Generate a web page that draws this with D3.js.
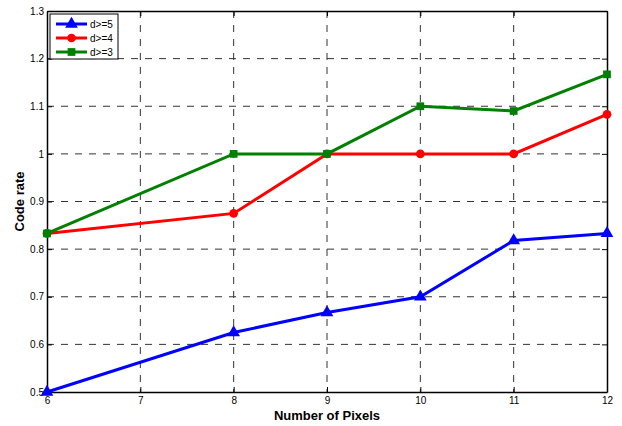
<!DOCTYPE html>
<html>
<head>
<meta charset="utf-8">
<script src="https://d3js.org/d3.v7.min.js"></script>
<style>
  body { margin: 0; background: #fff; }
  text { font-family: Arial, 'Liberation Sans', sans-serif; }
</style>
</head>
<body>
<div id="chart"></div>
<script>
// data
var pixels = [6, 8, 9, 10, 11, 12];
var rateD5 = [0.5, 0.625, 0.667, 0.7, 0.818, 0.833];
var rateD4 = [0.833, 0.875, 1.0, 1.0, 1.0, 1.083];
var rateD3 = [0.833, 1.0, 1.0, 1.1, 1.09, 1.167];
var xTicks = [6, 7, 8, 9, 10, 11, 12];
var yTicks = [0.5, 0.6, 0.7, 0.8, 0.9, 1, 1.1, 1.2, 1.3];

var series = [
  { name: "d>=5", values: rateD5, color: "#0000ff", marker: "triangle" },
  { name: "d>=4", values: rateD4, color: "#ff0000", marker: "circle" },
  { name: "d>=3", values: rateD3, color: "#008000", marker: "square" }
];

var width = 622, height = 426;
var margin = { top: 11, right: 15, bottom: 34, left: 47 };
var w = width - margin.left - margin.right,
    h = height - margin.top - margin.bottom;

var svg = d3.select("#chart").append("svg")
    .attr("width", width)
    .attr("height", height);

var g = svg.append("g")
    .attr("transform", "translate(" + margin.left + "," + margin.top + ")");

var x = d3.scaleLinear().domain([6, 12]).range([0, w]);
var y = d3.scaleLinear().domain([0.5, 1.3]).range([h, 0]);

// grid
g.append("g").selectAll("line")
    .data(xTicks.slice(1, -1))
    .enter().append("line")
    .attr("x1", d => x(d)).attr("x2", d => x(d))
    .attr("y1", 0).attr("y2", h)
    .attr("stroke", "#333").attr("stroke-width", 1)
    .attr("stroke-dasharray", "7,7");
g.append("g").selectAll("line")
    .data(yTicks.slice(1, -1))
    .enter().append("line")
    .attr("y1", d => y(d)).attr("y2", d => y(d))
    .attr("x1", 0).attr("x2", w)
    .attr("stroke", "#333").attr("stroke-width", 1)
    .attr("stroke-dasharray", "7,7");

// axes, ticks inside
var xAxis = g.append("g")
    .attr("transform", "translate(0," + h + ")")
    .call(d3.axisBottom(x).tickValues(xTicks).tickSizeInner(-5).tickSizeOuter(0).tickPadding(5).tickFormat(d3.format("d")));
var xAxisTop = g.append("g")
    .call(d3.axisTop(x).tickValues(xTicks).tickSizeInner(-5).tickSizeOuter(0).tickFormat(""));
var yAxis = g.append("g")
    .call(d3.axisLeft(y).tickValues(yTicks).tickSizeInner(-5).tickSizeOuter(0).tickPadding(3).tickFormat(d => d3.format("")(+d.toFixed(1))));
var yAxisRight = g.append("g")
    .attr("transform", "translate(" + w + ",0)")
    .call(d3.axisRight(y).tickValues(yTicks).tickSizeInner(-5).tickSizeOuter(0).tickFormat(""));

[xAxis, xAxisTop, yAxis, yAxisRight].forEach(function (a) {
  a.selectAll("path").attr("stroke", "#000").attr("stroke-width", 1.5);
  a.selectAll("line").attr("stroke", "#000");
  a.selectAll("text").attr("font-size", 10).attr("fill", "#000")
    .attr("font-family", "Arial, 'Liberation Sans', sans-serif");
});

// lines
var line = d3.line()
    .x((d, i) => x(pixels[i]))
    .y(d => y(d));

var symbolFor = {
  triangle: d3.symbol().type(d3.symbolTriangle).size(70),
  circle: d3.symbol().type(d3.symbolCircle).size(60),
  square: d3.symbol().type(d3.symbolSquare).size(60)
};

series.forEach(function (s) {
  g.append("path")
      .datum(s.values)
      .attr("fill", "none")
      .attr("stroke", s.color)
      .attr("stroke-width", 3)
      .attr("d", line);
  g.append("g").selectAll("path")
      .data(s.values)
      .enter().append("path")
      .attr("d", symbolFor[s.marker])
      .attr("transform", (d, i) => "translate(" + x(pixels[i]) + "," + y(d) + ")")
      .attr("fill", s.color);
});

// legend
var legend = g.append("g").attr("transform", "translate(3,3)");
legend.append("rect")
    .attr("width", 68).attr("height", 45)
    .attr("fill", "#fff").attr("stroke", "#000").attr("stroke-width", 1);
series.forEach(function (s, i) {
  var ly = 10 + i * 14;
  legend.append("line")
      .attr("x1", 6).attr("x2", 37)
      .attr("y1", ly).attr("y2", ly)
      .attr("stroke", s.color).attr("stroke-width", 3);
  legend.append("path")
      .attr("d", symbolFor[s.marker])
      .attr("transform", "translate(21.5," + ly + ")")
      .attr("fill", s.color);
  legend.append("text")
      .attr("x", 40).attr("y", ly)
      .attr("dy", "0.35em")
      .attr("font-size", 10)
      .text(s.name);
});

// axis titles
svg.append("text")
    .attr("x", margin.left + w / 2)
    .attr("y", 420)
    .attr("text-anchor", "middle")
    .attr("font-size", 13)
    .attr("font-weight", "bold")
    .text("Number of Pixels");

svg.append("text")
    .attr("transform", "translate(24," + (margin.top + h / 2) + ") rotate(-90)")
    .attr("text-anchor", "middle")
    .attr("font-size", 13)
    .attr("font-weight", "bold")
    .text("Code rate");
</script>
</body>
</html>
